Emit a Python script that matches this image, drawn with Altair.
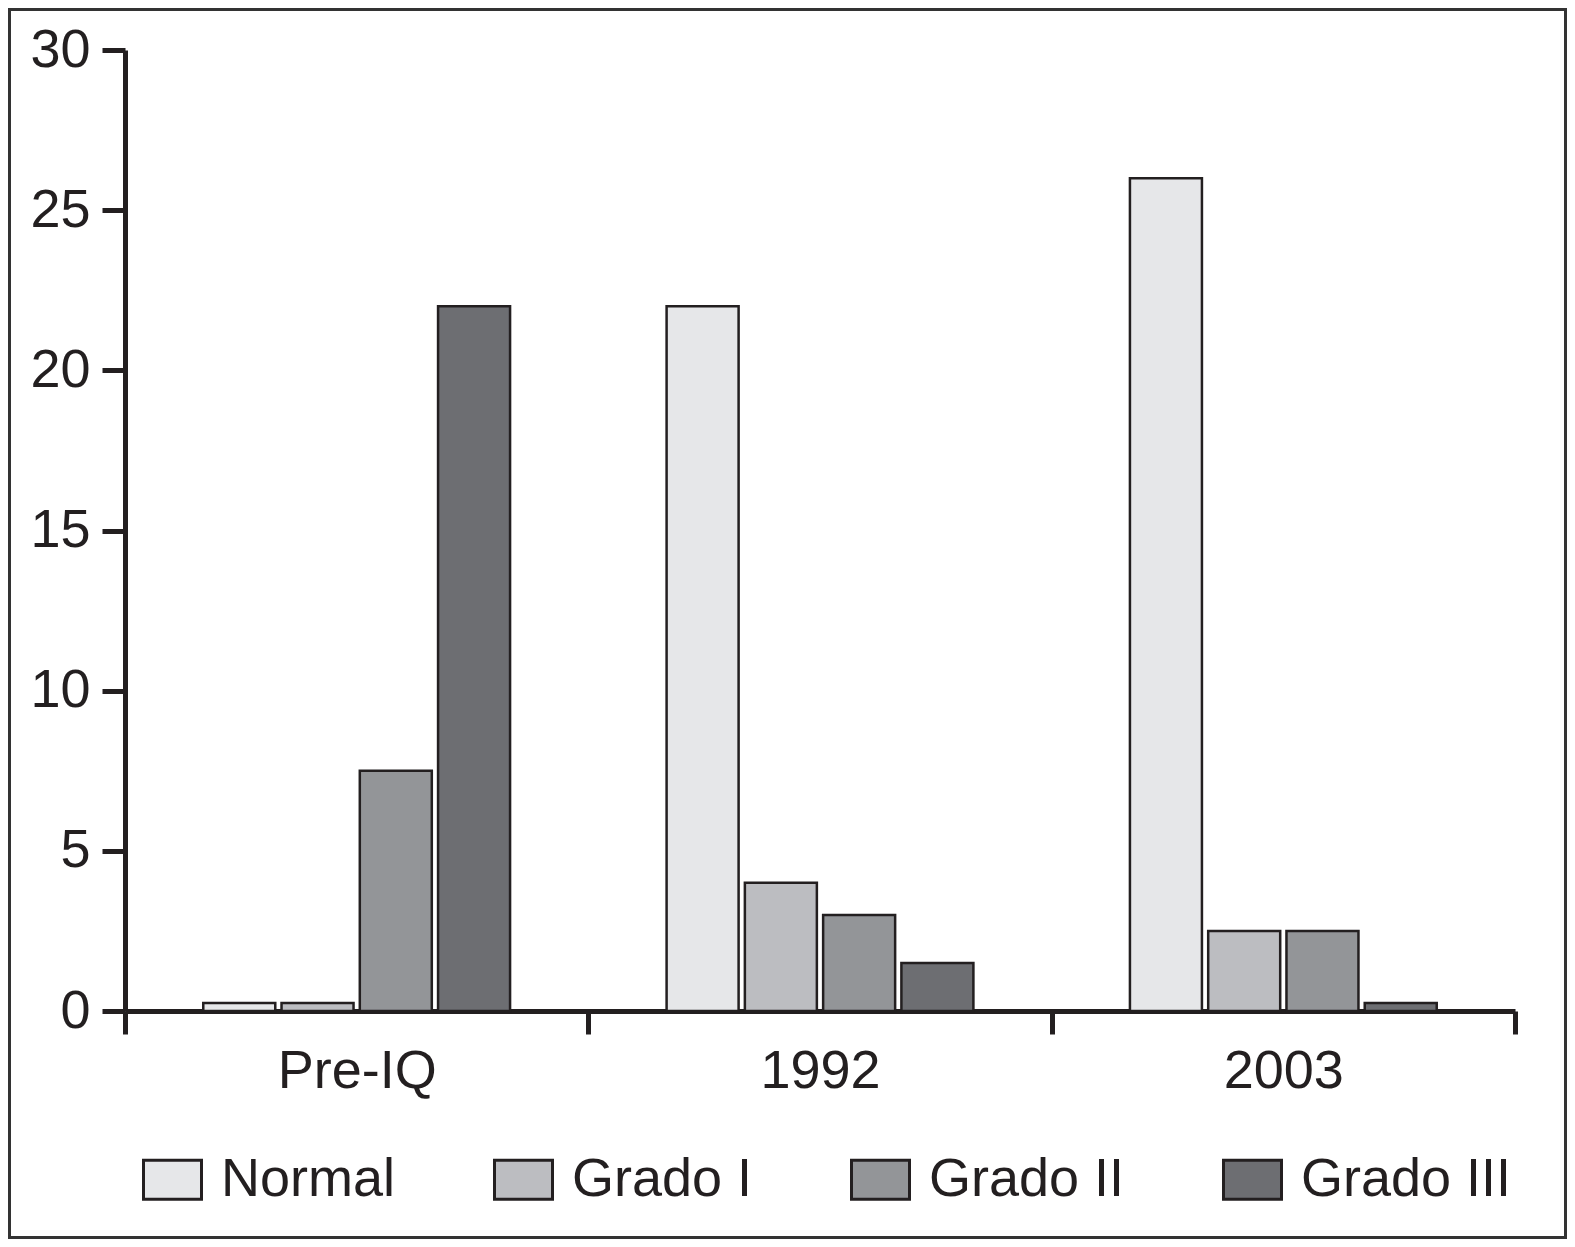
import altair as alt
import pandas as pd

groups = ["Pre-IQ", "1992", "2003"]
grades = ["Normal", "Grado I", "Grado II", "Grado III"]
normal = [0.25, 22, 26]
grado1 = [0.25, 4, 2.5]
grado2 = [7.5, 3, 2.5]
grado3 = [22, 1.5, 0.25]
colors = ["#e6e7e9", "#bcbdc1", "#939598", "#6d6e72"]
y_ticks = [0, 5, 10, 15, 20, 25, 30]

rows = []
for name, vals in zip(grades, [normal, grado1, grado2, grado3]):
    for g, v in zip(groups, vals):
        rows.append({"grupo": g, "grado": name, "valor": v})
df = pd.DataFrame(rows)

W, H = 1390, 961
PAD = {"left": 117, "top": 42, "right": 52, "bottom": 228}
FONT = "Liberation Sans"
INK = "#231f20"

bars = alt.Chart(df).mark_bar(stroke=INK, strokeWidth=2.5, opacity=1).encode(
    x=alt.X(
        "grupo:N", sort=groups,
        scale=alt.Scale(paddingInner=0, paddingOuter=0),
        axis=alt.Axis(title=None, labelAngle=0, tickBand="extent", tickSize=23,
                      tickWidth=5, tickColor=INK, domainWidth=5, domainColor=INK,
                      labelFontSize=54, labelFont=FONT, labelColor=INK,
                      labelPadding=10),
    ),
    xOffset=alt.XOffset("grado:N", sort=grades,
                        scale=alt.Scale(paddingInner=0.08, paddingOuter=1)),
    y=alt.Y(
        "valor:Q",
        scale=alt.Scale(domain=[0, 30], nice=False),
        axis=alt.Axis(values=y_ticks, title=None, grid=False, tickSize=23,
                      tickWidth=5, tickColor=INK, domainWidth=5, domainColor=INK,
                      labelFontSize=54, labelFont=FONT, labelColor=INK,
                      labelPadding=12),
    ),
    color=alt.Color(
        "grado:N", sort=grades,
        scale=alt.Scale(domain=grades, range=colors),
        legend=alt.Legend(
            title=None, orient="none", legendX=17, legendY=1099,
            direction="horizontal", padding=0,
            symbolType="M-1,-0.67H1V0.67H-1Z", symbolSize=3364,
            symbolStrokeWidth=3, symbolStrokeColor=INK, symbolOpacity=1,
            labelFontSize=54, labelFont=FONT, labelColor=INK, labelLimit=0,
            labelOffset=18, columnPadding=92,
        ),
    ),
)

frame = alt.Chart(pd.DataFrame({"k": [0]})).mark_rect(
    fillOpacity=0, stroke="#333333", strokeWidth=3
).encode(
    x=alt.value(-PAD["left"] + 1.5),
    x2=alt.value(W + PAD["right"] - 1.5),
    y=alt.value(-PAD["top"] + 1.5),
    y2=alt.value(H + PAD["bottom"] - 1.5),
)

chart = alt.layer(frame, bars).properties(
    width=W, height=H, padding=PAD, background="white",
    autosize=alt.AutoSizeParams(type="none"),
).configure_view(strokeWidth=0, stroke="transparent")

chart.save("out.html", embed_options={"renderer": "svg", "actions": False})
